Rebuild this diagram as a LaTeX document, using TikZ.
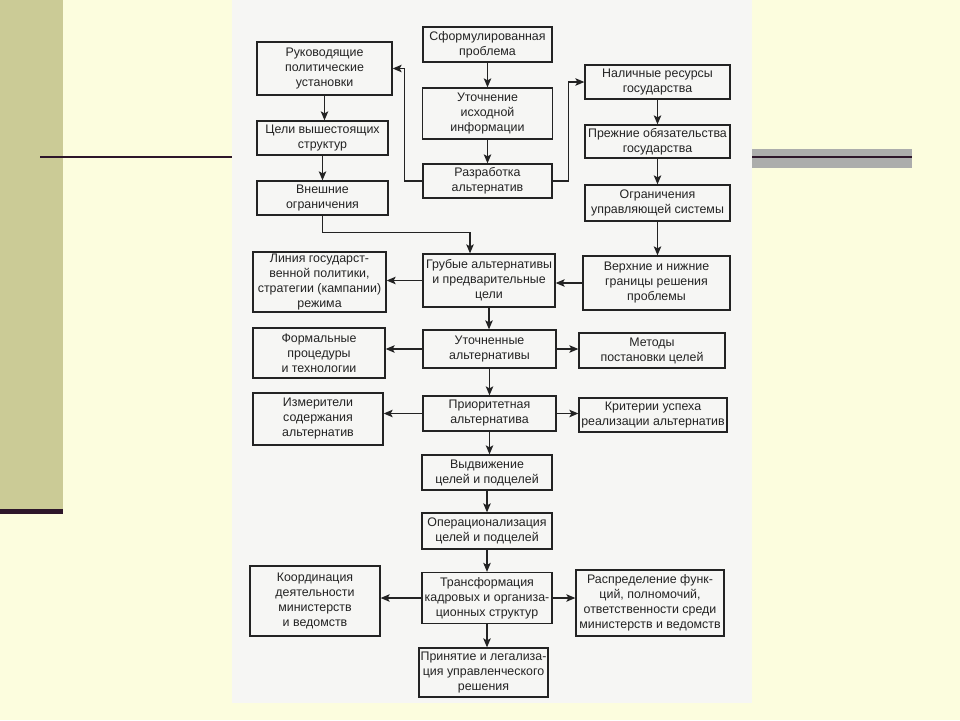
\documentclass[tikz,border=0pt]{standalone}
\usepackage{fontspec}
\setmainfont{Liberation Sans}
\usetikzlibrary{arrows.meta}

\definecolor{fon}{RGB}{252,253,222}
\definecolor{oliva}{RGB}{203,203,150}
\definecolor{polosa}{RGB}{45,22,42}
\definecolor{seryj}{RGB}{172,173,172}
\definecolor{list}{RGB}{246,246,244}
\definecolor{ramka}{RGB}{35,35,35}
\definecolor{tekst}{RGB}{35,35,35}

\begin{document}
\begin{tikzpicture}[x=1pt,y=-1pt,
    blok/.style={draw=ramka, line width=1.3pt, align=center, inner sep=1pt,
      text=tekst, font=\fontsize{12.4}{15}\selectfont},
    strelka/.style={draw=ramka, line width=1.2pt, -{Stealth[length=9pt,width=7.5pt,inset=2pt]}}]
  \useasboundingbox (0,0) rectangle (960,720);
  % slide background
  \fill[fon] (0,0) rectangle (960,720);
  \fill[oliva] (0,0) rectangle (63,510);
  \fill[polosa] (0,509) rectangle (63,514);
  \draw[polosa, line width=2pt] (40,157) -- (232,157);
  \fill[seryj] (752,149) rectangle (912,168);
  \draw[polosa, line width=2pt] (752,157) -- (912,157);
  \fill[list] (232,0) rectangle (752,703);

  % left column
  \node[blok, minimum width=135pt, minimum height=53pt] (ruk) at (324.5,68.5) {Руководящие\\политические\\установки};
  \node[blok, minimum width=131pt, minimum height=34pt] (celi) at (322.5,138) {Цели вышестоящих\\структур};
  \node[blok, minimum width=131pt, minimum height=34pt] (vnesh) at (322.5,198) {Внешние\\ограничения};
  \node[blok, minimum width=133pt, minimum height=60pt] (liniya) at (319.5,282) {Линия государст-\\венной политики,\\стратегии (кампании)\\режима};
  \node[blok, minimum width=132pt, minimum height=50pt] (formal) at (319,353) {Формальные\\процедуры\\и технологии};
  \node[blok, minimum width=130pt, minimum height=52pt] (izmer) at (318,419) {Измерители\\содержания\\альтернатив};
  \node[blok, minimum width=130pt, minimum height=70pt] (koord) at (315,601) {Координация\\деятельности\\министерств\\и ведомств};

  % middle column
  \node[blok, minimum width=129pt, minimum height=35pt] (sform) at (487.5,44.5) {Сформулированная\\проблема};
  \node[blok, minimum width=130pt, minimum height=51pt] (utoch) at (487.5,113.5) {Уточнение\\исходной\\информации};
  \node[blok, minimum width=129pt, minimum height=34pt] (razrab) at (487.5,181) {Разработка\\альтернатив};
  \node[blok, minimum width=132pt, minimum height=53pt] (grub) at (489,280.5) {Грубые альтернативы\\и предварительные\\цели};
  \node[blok, minimum width=133pt, minimum height=38pt] (utochn) at (489.5,349) {Уточненные\\альтернативы};
  \node[blok, minimum width=133pt, minimum height=35pt] (prior) at (489.5,413.5) {Приоритетная\\альтернатива};
  \node[blok, minimum width=130pt, minimum height=35pt] (vydv) at (487,472.5) {Выдвижение\\целей и подцелей};
  \node[blok, minimum width=130pt, minimum height=36pt] (oper) at (487,531) {Операционализация\\целей и подцелей};
  \node[blok, minimum width=130pt, minimum height=51pt] (transf) at (487,598) {Трансформация\\кадровых и организа-\\ционных структур};
  \node[blok, minimum width=129pt, minimum height=49pt] (prin) at (483.5,672.5) {Принятие и легализа-\\ция управленческого\\решения};

  % right column
  \node[blok, minimum width=145pt, minimum height=34pt] (nalich) at (657.5,82) {Наличные ресурсы\\государства};
  \node[blok, minimum width=145pt, minimum height=33pt] (prezh) at (657.5,141.5) {Прежние обязательства\\государства};
  \node[blok, minimum width=145pt, minimum height=36pt] (ogran) at (657.5,203) {Ограничения\\управляющей системы};
  \node[blok, minimum width=147pt, minimum height=54pt] (verkh) at (656.5,283) {Верхние и нижние\\границы решения\\проблемы};
  \node[blok, minimum width=146pt, minimum height=35pt] (metody) at (652,350.5) {Методы\\постановки целей};
  \node[blok, minimum width=148pt, minimum height=34pt] (krit) at (653,415) {Критерии успеха\\реализации альтернатив};
  \node[blok, minimum width=148pt, minimum height=66pt] (raspr) at (650,603) {Распределение функ-\\ций, полномочий,\\ответственности среди\\министерств и ведомств};

  % connectors
  \draw[strelka] (ruk.south) -- (ruk.south |- celi.north);
  \draw[strelka] (celi.south) -- (celi.south |- vnesh.north);
  \draw[strelka] (vnesh.south) -- ++(0,17) -| ([xshift=-19pt]grub.north);
  \draw[strelka] (sform.south) -- (sform.south |- utoch.north);
  \draw[strelka] (utoch.south) -- (utoch.south |- razrab.north);
  \draw[strelka] (razrab.west) -- ++(-18,0) |- (ruk.east);
  \draw[strelka] (razrab.east) -- ++(16,0) |- (nalich.west);
  \draw[strelka] (nalich.south) -- (nalich.south |- prezh.north);
  \draw[strelka] (prezh.south) -- (prezh.south |- ogran.north);
  \draw[strelka] (ogran.south) -- (ogran.south |- verkh.north);
  \draw[strelka] (verkh.west) -- (verkh.west -| grub.east);
  \draw[strelka] (grub.west) -- (grub.west -| liniya.east);
  \draw[strelka] (grub.south) -- (grub.south |- utochn.north);
  \draw[strelka] (utochn.west) -- (utochn.west -| formal.east);
  \draw[strelka] (utochn.east) -- (utochn.east -| metody.west);
  \draw[strelka] (utochn.south) -- (utochn.south |- prior.north);
  \draw[strelka] (prior.west) -- (prior.west -| izmer.east);
  \draw[strelka] (prior.east) -- (prior.east -| krit.west);
  \draw[strelka] (prior.south) -- (prior.south |- vydv.north);
  \draw[strelka] (vydv.south) -- (vydv.south |- oper.north);
  \draw[strelka] (oper.south) -- (oper.south |- transf.north);
  \draw[strelka] (transf.west) -- (transf.west -| koord.east);
  \draw[strelka] (transf.east) -- (transf.east -| raspr.west);
  \draw[strelka] (transf.south) -- (transf.south |- prin.north);
\end{tikzpicture}
\end{document}
